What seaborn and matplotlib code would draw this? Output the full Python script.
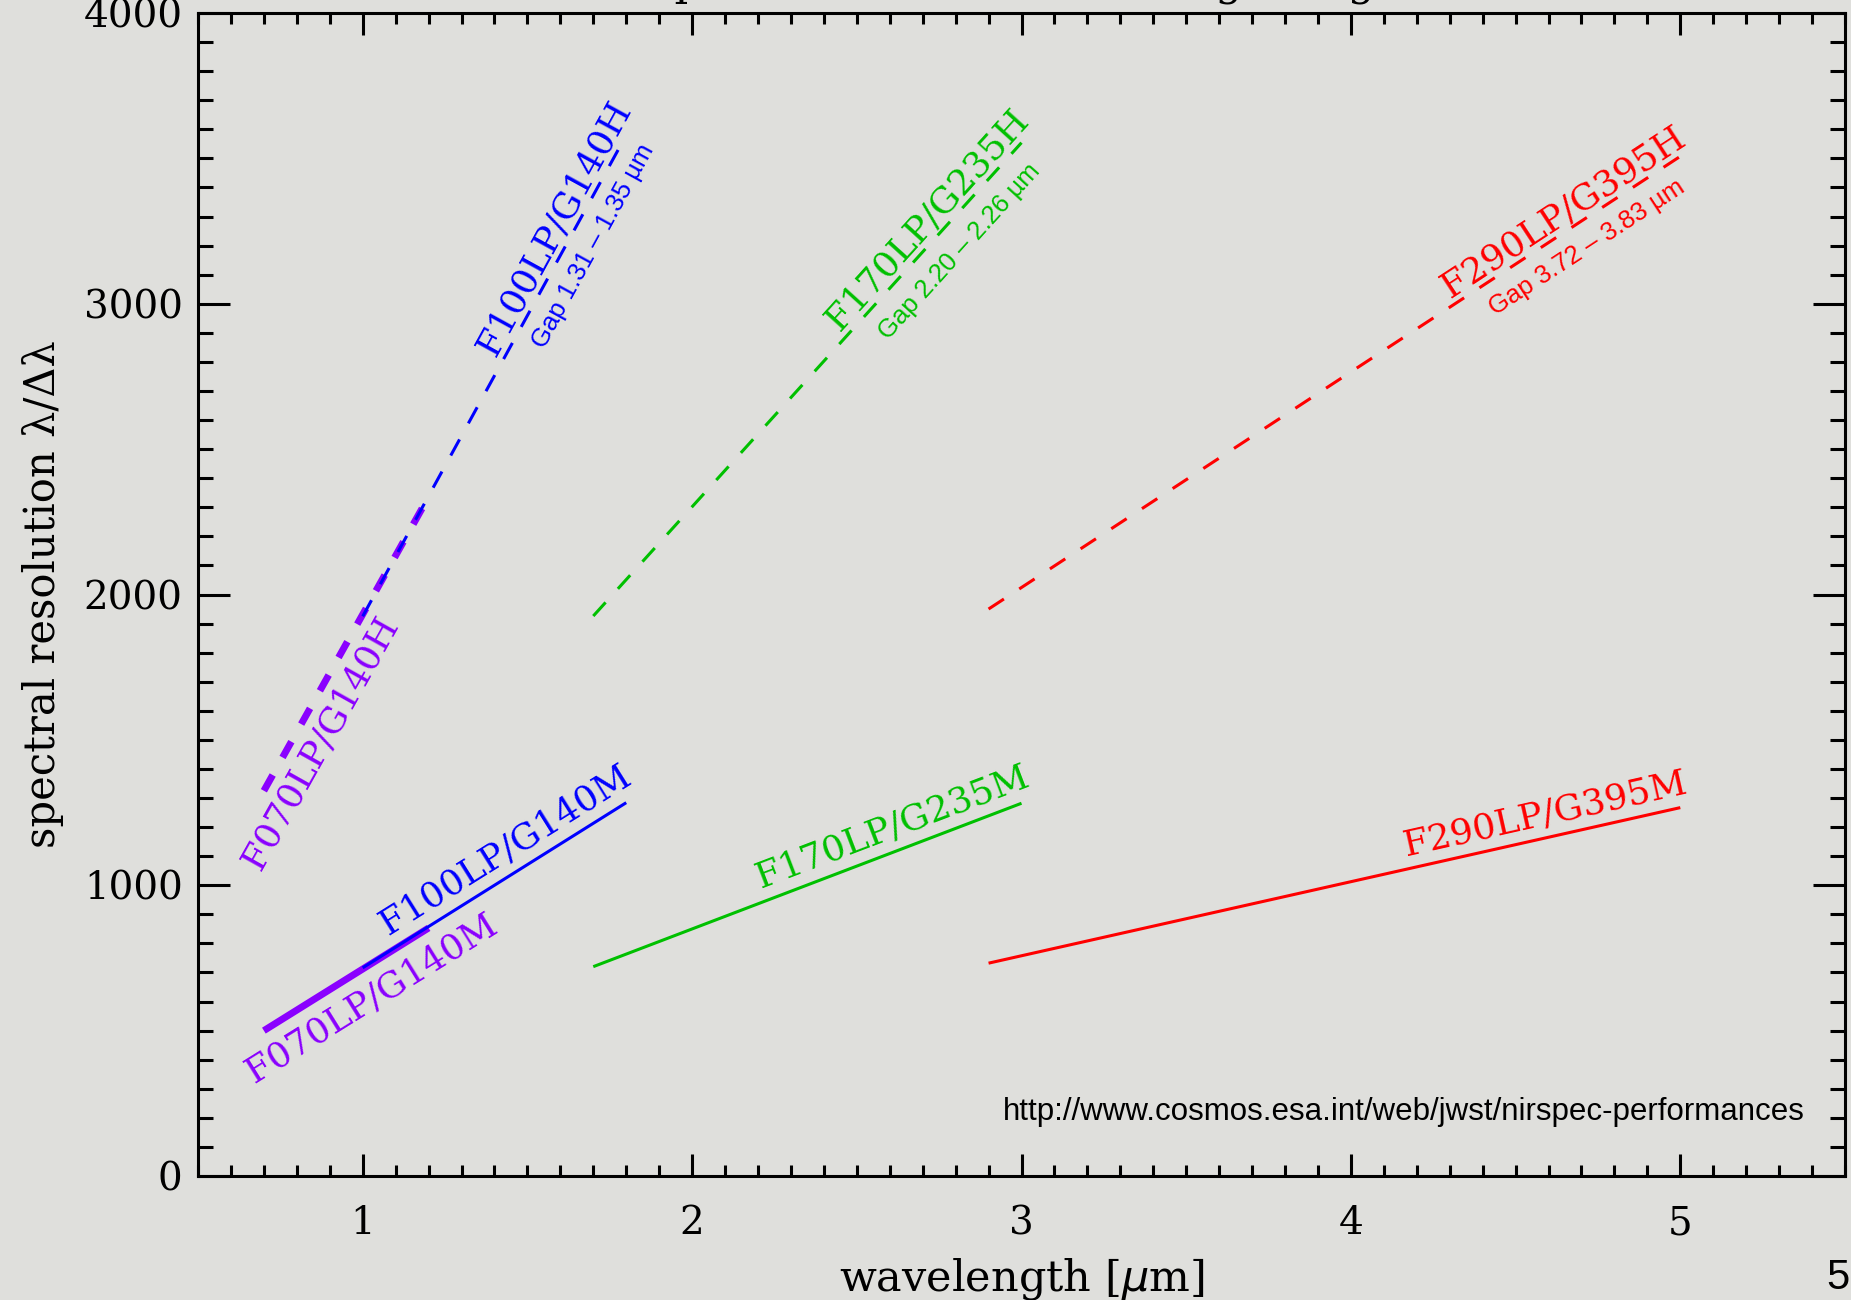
import numpy as np
import pandas as pd
import matplotlib
matplotlib.use("Agg")
import matplotlib.pyplot as plt
from matplotlib.ticker import MultipleLocator
import seaborn as sns

# NIRSpec filter / grating combinations: wavelength coverage and resolving power
filters = ["F070LP", "F100LP", "F170LP", "F290LP"]
gratings_m = ["G140M", "G140M", "G235M", "G395M"]
gratings_h = ["G140H", "G140H", "G235H", "G395H"]
colors = ["#8a00ff", "#0000ff", "#00c000", "#ff0000"]

wave_lo = [0.70, 1.00, 1.70, 2.90]
wave_hi = [1.20, 1.80, 3.00, 5.00]
res_m_lo = [500, 716, 720, 732]
res_m_hi = [853, 1284, 1282, 1267]
res_h_lo = [1325, 1925, 1926, 1950]
res_h_hi = [2336, 3580, 3554, 3507]

# label anchor points (data coordinates)
label_m_x = [1.028, 1.432, 2.607, 4.589]
label_m_y = [612, 1121, 1200, 1245]
label_h_x = [0.873, 1.581, 2.713, 4.644]
label_h_y = [1489, 3260, 3288, 3315]
gap_text = ["Gap 1.31 \u2013 1.35 \u00b5m", "Gap 2.20 \u2013 2.26 \u00b5m",
            "Gap 3.72 \u2013 3.83 \u00b5m"]
gap_x = [1.699, 2.813, 4.717]
gap_y = [3198, 3181, 3195]

x_ticks = [1, 2, 3, 4, 5]
y_ticks = [0, 1000, 2000, 3000, 4000]

bg = "#dfdfdc"
sns.set_style("ticks")
plt.rcParams["font.family"] = ["DejaVu Serif"]
plt.rcParams["axes.linewidth"] = 2.2
plt.rcParams["text.color"] = "black"
plt.rcParams["axes.labelcolor"] = "black"
plt.rcParams["xtick.color"] = "black"
plt.rcParams["ytick.color"] = "black"

W, H = 1851, 1300
fig = plt.figure(figsize=(W / 100, H / 100), dpi=100, facecolor=bg)
ax = fig.add_axes([198 / W, 124 / H, (1845 - 198) / W, (1176 - 13) / H])
ax.set_facecolor(bg)
ax.set_xlim(0.5, 5.5)
ax.set_ylim(0, 4000)


def screen_angle(x0, y0, x1, y1):
    p0 = ax.transData.transform((x0, y0))
    p1 = ax.transData.transform((x1, y1))
    return np.degrees(np.arctan2(p1[1] - p0[1], p1[0] - p0[0]))


for i in range(len(filters)):
    thick = i == 0
    lw = 5.0 if thick else 2.2
    dash = (0, (2.6, 2.9)) if thick else (0, (6, 6))
    df_m = pd.DataFrame({"wavelength": [wave_lo[i], wave_hi[i]],
                         "R": [res_m_lo[i], res_m_hi[i]]})
    df_h = pd.DataFrame({"wavelength": [wave_lo[i], wave_hi[i]],
                         "R": [res_h_lo[i], res_h_hi[i]]})
    sns.lineplot(data=df_m, x="wavelength", y="R", ax=ax, color=colors[i],
                 lw=lw, solid_capstyle="butt")
    sns.lineplot(data=df_h, x="wavelength", y="R", ax=ax, color=colors[i],
                 lw=lw, linestyle=dash, dash_capstyle="butt")

    ang_m = screen_angle(wave_lo[i], res_m_lo[i], wave_hi[i], res_m_hi[i])
    ang_h = screen_angle(wave_lo[i], res_h_lo[i], wave_hi[i], res_h_hi[i])
    ax.text(label_m_x[i], label_m_y[i], f"{filters[i]}/{gratings_m[i]}",
            color=colors[i], fontsize=26, rotation=ang_m,
            rotation_mode="anchor", ha="center", va="center")
    ax.text(label_h_x[i], label_h_y[i], f"{filters[i]}/{gratings_h[i]}",
            color=colors[i], fontsize=26, rotation=ang_h,
            rotation_mode="anchor", ha="center", va="center")
    if i >= 1:
        ax.text(gap_x[i - 1], gap_y[i - 1], gap_text[i - 1], color=colors[i],
                fontsize=18.5, family=["Liberation Sans", "DejaVu Sans"],
                rotation=ang_h, rotation_mode="anchor",
                ha="center", va="center")

ax.set_xticks(x_ticks)
ax.set_yticks(y_ticks)
ax.xaxis.set_minor_locator(MultipleLocator(0.1))
ax.yaxis.set_minor_locator(MultipleLocator(100))
ax.tick_params(axis="both", which="both", direction="in", top=True,
               right=True, width=2.2, colors="black", labelsize=28)
ax.tick_params(axis="x", which="major", length=16, pad=21)
ax.tick_params(axis="x", which="minor", length=8)
ax.tick_params(axis="y", which="major", length=23, pad=11)
ax.tick_params(axis="y", which="minor", length=11)
for s in ax.spines.values():
    s.set_color("black")

ax.set_xlabel("wavelength [$\\mu$m]", fontsize=31, labelpad=10)
ax.set_ylabel("spectral resolution \u03bb/\u0394\u03bb", fontsize=30,
              labelpad=14)

fig.text(1021 / W, 1 + 5 / H, "Spectral resolution of the gratings",
         ha="center", va="baseline", fontsize=31)
ax.text(0.9755, 0.055, "http://www.cosmos.esa.int/web/jwst/nirspec-performances",
        transform=ax.transAxes, ha="right", va="center", fontsize=22.5,
        family=["Liberation Sans", "DejaVu Sans"], color="black")
fig.text(1838 / W, 1 - 1278 / H, "5", ha="center", va="center", fontsize=30,
         family=["Liberation Sans", "DejaVu Sans"], color="black")

fig.savefig("out.png", dpi=100, facecolor=bg)
